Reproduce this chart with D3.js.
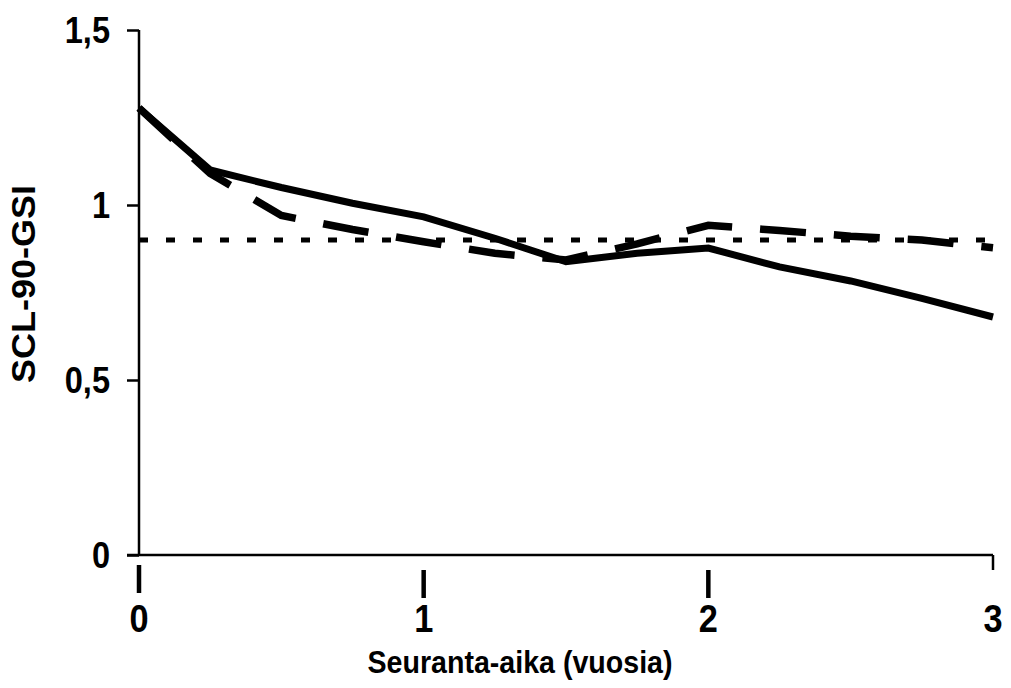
<!DOCTYPE html>
<html>
<head>
<meta charset="utf-8">
<script src="https://cdn.jsdelivr.net/npm/d3@7"></script>
<style>
  html, body { margin: 0; padding: 0; background: #fff; }
  svg { display: block; }
  text { font-family: Arial, "Liberation Sans", sans-serif; font-weight: bold; fill: #000; }
</style>
</head>
<body>
<svg id="chart" width="1011" height="688"></svg>
<script>
// ---- data ----
const years = [0, 0.25, 0.5, 0.75, 1, 1.25, 1.5, 1.75, 2, 2.25, 2.5, 2.75, 3];
const seriesSolid = [1.277, 1.10, 1.05, 1.005, 0.966, 0.905, 0.838, 0.862, 0.877, 0.823, 0.783, 0.733, 0.68];
const seriesDashed = [1.277, 1.09, 0.97, 0.93, 0.895, 0.862, 0.843, 0.889, 0.942, 0.927, 0.911, 0.9, 0.878];
const referenceLevel = [0.9, 0.9];
const referenceYears = [0, 3];
const yTicks = [0, 0.5, 1, 1.5];
const xTicks = [0, 1, 2, 3];
const xTitle = "Seuranta-aika (vuosia)";
const yTitle = "SCL-90-GSI";

// ---- layout ----
const svg = d3.select("#chart");
const x = d3.scaleLinear().domain([0, 3]).range([139, 993]);
const y = d3.scaleLinear().domain([0, 1.5]).range([555, 30]);
const fmt = d => String(d).replace(".", ",");
const sx = 0.88;

// y axis
const yAxis = d3.axisLeft(y).tickValues(yTicks).tickSize(12).tickFormat("");
const gy = svg.append("g").attr("transform", `translate(${x(0)},0)`).call(yAxis);
gy.select(".domain").attr("stroke", "#000").attr("stroke-width", 2.5).attr("d", `M0,${y(1.5)}V${y(0)}`);
gy.selectAll(".tick line").attr("stroke", "#000").attr("stroke-width", 2.5);
svg.append("g").selectAll("text").data(yTicks).join("text")
  .attr("transform", d => `translate(110,${y(d) + 13}) scale(${sx},1)`)
  .attr("text-anchor", "end").attr("font-size", 37).text(fmt);

// x axis
const gx = svg.append("g").attr("transform", `translate(0,${y(0)})`);
gx.append("line").attr("x1", x(0) - 12).attr("x2", x(3)).attr("y1", 0).attr("y2", 0)
  .attr("stroke", "#000").attr("stroke-width", 2.5);
gx.append("line").attr("x1", x(3)).attr("x2", x(3)).attr("y1", 0).attr("y2", 15)
  .attr("stroke", "#000").attr("stroke-width", 2.5);
gx.selectAll("line.big").data(xTicks.filter(d => d < 3)).join("line")
  .attr("class", "big")
  .attr("x1", d => x(d)).attr("x2", d => x(d))
  .attr("y1", (d, i) => i === 0 ? 10 : 15).attr("y2", (d, i) => i === 0 ? 38 : 43)
  .attr("stroke", "#000").attr("stroke-width", 4.5);
gx.selectAll("text").data(xTicks).join("text")
  .attr("transform", d => `translate(${x(d)},77) scale(${sx},1)`)
  .attr("text-anchor", "middle").attr("font-size", 39).text(d => d);

// titles
svg.append("text").attr("x", 520).attr("y", 673).attr("text-anchor", "middle")
  .attr("font-size", 31).attr("textLength", 305).attr("lengthAdjust", "spacingAndGlyphs").text(xTitle);
svg.append("text").attr("transform", "translate(35,284) rotate(-90)").attr("text-anchor", "middle")
  .attr("font-size", 33).attr("textLength", 198).attr("lengthAdjust", "spacingAndGlyphs").text(yTitle);

// lines
const line = d3.line().x(d => x(d[0])).y(d => y(d[1]));
svg.append("path")
  .datum(referenceYears.map((d, i) => [d, referenceLevel[i]]))
  .attr("d", line).attr("fill", "none").attr("stroke", "#000")
  .attr("stroke-width", 5).attr("stroke-dasharray", "9,18");
svg.append("path")
  .datum(years.map((d, i) => [d, seriesDashed[i]]))
  .attr("d", line).attr("fill", "none").attr("stroke", "#000")
  .attr("stroke-width", 7.5).attr("stroke-dasharray", "46,28").attr("stroke-dashoffset", 0);
svg.append("path")
  .datum(years.map((d, i) => [d, seriesSolid[i]]))
  .attr("d", line).attr("fill", "none").attr("stroke", "#000")
  .attr("stroke-width", 7).attr("stroke-linejoin", "miter");
</script>
</body>
</html>
